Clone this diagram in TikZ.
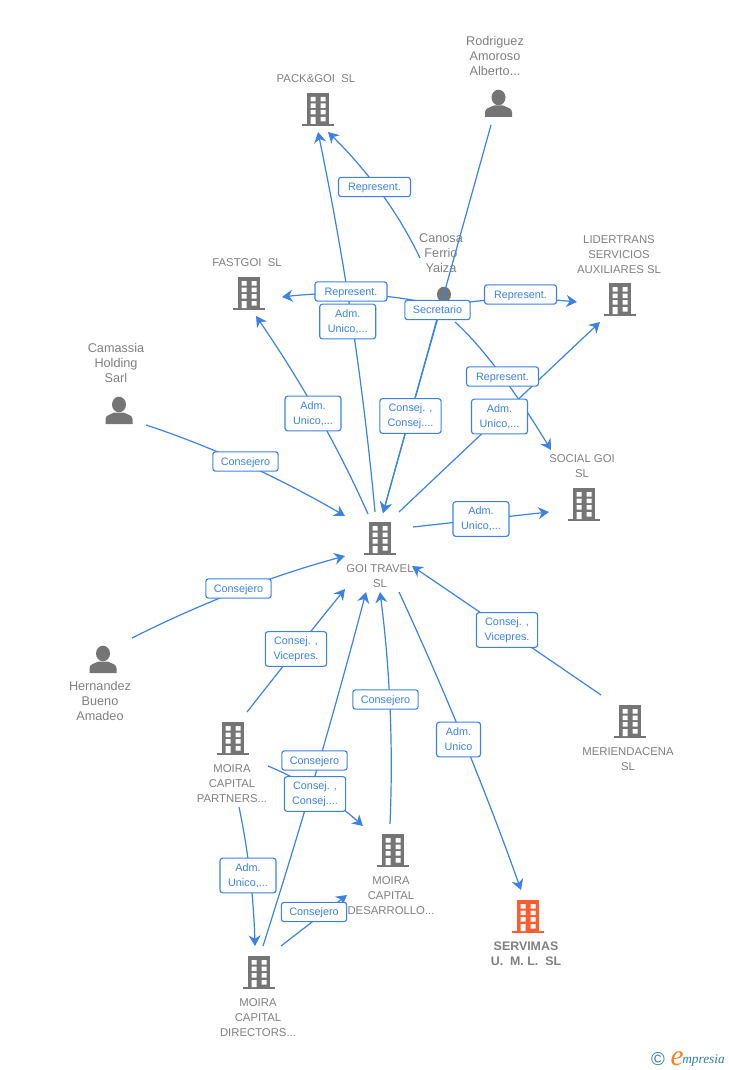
\documentclass[tikz,border=0pt]{standalone}
\usepackage{fontspec}
\setmainfont{Liberation Sans}
\newfontfamily\logoserif{Liberation Serif}
\usetikzlibrary{arrows.meta,calc}
\definecolor{linkblue}{HTML}{3B82E4}
\definecolor{nametext}{HTML}{808080}
\definecolor{icongray}{HTML}{757575}
\definecolor{iconorange}{HTML}{FF5B2E}
\definecolor{logoteal}{HTML}{2F7F9E}
\definecolor{logoorange}{HTML}{F58220}
\tikzset{
  x=0.75pt,y=-0.75pt,
  link/.style={draw=linkblue,line width=0.9pt},
  arrowlink/.style={link,-{Stealth[length=8pt,width=9pt,inset=2.6pt]}},
  tag/.style={draw=linkblue,fill=white,rounded corners=2pt,line width=0.85pt,text=linkblue,
    font=\fontsize{8.1}{11.3}\selectfont,align=center,inner sep=0pt,minimum height=#1},
  tag/.default=14.5pt,
  single/.style={tag,text height=5.6pt,text depth=0pt},
  nametag/.style={text=nametext,font=\fontsize{8.5}{11.25}\selectfont,align=center,inner sep=0pt,anchor=north},
  personname/.style={nametag,font=\fontsize{9.5}{11.25}\selectfont},
  pics/bld/.style={code={
    \fill[#1] (-11,0) rectangle (11,31);
    \fill[#1] (-16,31) rectangle (16,33);
    \fill[white] (-7.5,4) rectangle (-2.5,8.5) (2.5,4) rectangle (7.5,8.5)
      (-7.5,10.5) rectangle (-2.5,15) (2.5,10.5) rectangle (7.5,15)
      (-7.5,17) rectangle (-2.5,21.5) (2.5,17) rectangle (7.5,21.5)
      (-7.5,24) rectangle (-2.5,31) (2.5,24) rectangle (7.5,28.5);
  }},
  pics/person/.style={code={
    \fill[icongray] (0,7.5) ellipse (7 and 7.8);
    \fill[icongray] (-13.5,27) -- (-13.5,22) .. controls (-13.5,18.5) and (-9,17.5) .. (-4.5,15.5)
      -- (4.5,15.5) .. controls (9,17.5) and (13.5,18.5) .. (13.5,22) -- (13.5,27) -- cycle;
  }},
}
\newcommand{\conn}[3]{\draw[arrowlink] (#1) .. controls ($1.3333*(#2)-0.33333*(#3)$) and ($1.3333*(#2)-0.33333*(#1)$) .. (#3);}
\begin{document}
\begin{tikzpicture}
\useasboundingbox (0,0) rectangle (728,1070);
% icons
\pic at (318,93) {bld=icongray};
\pic at (249,277) {bld=icongray};
\pic at (620,283) {bld=icongray};
\pic at (584,488) {bld=icongray};
\pic at (380,522) {bld=icongray};
\pic at (630,705) {bld=icongray};
\pic at (233,722) {bld=icongray};
\pic at (393,834) {bld=icongray};
\pic at (259,956) {bld=icongray};
\pic at (528,900) {bld=iconorange};
\pic at (498.5,90) {person};
\pic at (119,397) {person};
\pic at (103,646) {person};
\pic at (444,287) {person};
% names
\node[personname] (nrod) at (495,36.5) {Rodriguez\\Amoroso\\Alberto...};
\node[nametag] (npack) at (316,74.5) {PACK\&GOI\ \ SL};
\node[nametag] (nfast) at (247,258.5) {FASTGOI\ \ SL};
\node[personname] (ncan) at (441,233.5) {Canosa\\Ferrio\\Yaiza};
\node[nametag] (nlid) at (619,235.5) {LIDERTRANS\\SERVICIOS\\AUXILIARES SL};
\node[personname] (ncam) at (116,343.5) {Camassia\\Holding\\Sarl};
\node[nametag] (nsoc) at (582,454.5) {SOCIAL GOI\\SL};
\node[nametag] (ngoi) at (380,564.5) {GOI TRAVEL\\SL};
\node[personname] (nher) at (100,681.5) {Hernandez\\Bueno\\Amadeo};
\node[nametag] (nmer) at (628,747.5) {MERIENDACENA\\SL};
\node[nametag] (npar) at (232,764.5) {MOIRA\\CAPITAL\\PARTNERS...};
\node[nametag] (ndes) at (391,876.5) {MOIRA\\CAPITAL\\DESARROLLO...};
\node[nametag] (ndir) at (258,998.5) {MOIRA\\CAPITAL\\DIRECTORS...};
\node[nametag,font=\fontsize{9.3}{11.25}\selectfont\bfseries] (nser) at (526,942) {SERVIMAS\\U.\ \ M.\ L.\ \ SL};
% connector ends and waypoints
\coordinate (goiPackS) at (375,512);   \coordinate (goiPackE) at (318,132);  \coordinate (goiPackV) at (352,322);
\coordinate (canPackS) at (420,258);   \coordinate (canPackE) at (328,132);  \coordinate (canPackV) at (381,193);
\coordinate (canFastS) at (418,301);   \coordinate (canFastE) at (282,297);  \coordinate (canFastV) at (351,294);
\coordinate (canLidS) at (470,302);    \coordinate (canLidE) at (577,302);   \coordinate (canLidV) at (520,299);
\coordinate (canSocS) at (455,322);    \coordinate (canSocE) at (551,450);   \coordinate (canSocV) at (499,372);
\coordinate (rodGoiS) at (491,125);    \coordinate (rodGoiE) at (383,513);   \coordinate (rodGoiV) at (437,319);
\coordinate (canGoiS) at (443,300);    \coordinate (canGoiV) at (413,406);
\coordinate (goiLidS) at (399,512);    \coordinate (goiLidE) at (600,322);   \coordinate (goiLidV) at (499.5,417);
\coordinate (goiFastS) at (368,514);   \coordinate (goiFastE) at (256,316);  \coordinate (goiFastV) at (318,415);
\coordinate (camGoiS) at (146,425);    \coordinate (camGoiE) at (345,516);   \coordinate (camGoiV) at (245,464);
\coordinate (goiSocS) at (413,527);    \coordinate (goiSocE) at (549,512);   \coordinate (goiSocV) at (481,519.5);
\coordinate (herGoiS) at (132,638);    \coordinate (herGoiE) at (345,556);   \coordinate (herGoiV) at (238,591);
\coordinate (merGoiS) at (601,695);    \coordinate (merGoiE) at (412,566);   \coordinate (merGoiV) at (506,630);
\coordinate (parGoiS) at (247,712);    \coordinate (parGoiE) at (345,589);   \coordinate (parGoiV) at (296,650);
\coordinate (dirGoiS) at (263,946);    \coordinate (dirGoiE) at (366,592);   \coordinate (dirGoiV) at (317,769);
\coordinate (desGoiS) at (390,824);    \coordinate (desGoiE) at (380,592);   \coordinate (desGoiV) at (390,708);
\coordinate (goiSerS) at (399,592);    \coordinate (goiSerE) at (521,890);   \coordinate (goiSerV) at (464,741);
\coordinate (parDesS) at (268,766);    \coordinate (parDesE) at (363,826);   \coordinate (parDesV) at (318,792);
\coordinate (parDirS) at (239,807);    \coordinate (parDirE) at (255,946);   \coordinate (parDirV) at (250,875);
\coordinate (dirDesS) at (281,946);    \coordinate (dirDesE) at (347,895);   \coordinate (dirDesV) at (314,920.5);
% connectors
\conn{goiPackS}{goiPackV}{goiPackE}
\conn{canPackS}{canPackV}{canPackE}
\conn{canFastS}{canFastV}{canFastE}
\conn{canLidS}{canLidV}{canLidE}
\conn{canSocS}{canSocV}{canSocE}
\conn{rodGoiS}{rodGoiV}{rodGoiE}
\conn{canGoiS}{canGoiV}{rodGoiE}
\conn{goiLidS}{goiLidV}{goiLidE}
\conn{goiFastS}{goiFastV}{goiFastE}
\conn{camGoiS}{camGoiV}{camGoiE}
\conn{goiSocS}{goiSocV}{goiSocE}
\conn{herGoiS}{herGoiV}{herGoiE}
\conn{merGoiS}{merGoiV}{merGoiE}
\conn{parGoiS}{parGoiV}{parGoiE}
\conn{dirGoiS}{dirGoiV}{dirGoiE}
\conn{desGoiS}{desGoiV}{desGoiE}
\conn{goiSerS}{goiSerV}{goiSerE}
\conn{parDesS}{parDesV}{parDesE}
\conn{parDirS}{parDirV}{parDirE}
\conn{dirDesS}{dirDesV}{dirDesE}
% tags
\node[single,minimum width=54pt] (t1) at (374.5,187) {Represent.};
\node[single,minimum width=54pt] (t2) at (351,291.5) {Represent.};
\node[tag=26pt,minimum width=42pt] (t3) at (347.7,321.5) {Adm.\\Unico,...};
\node[single,minimum width=49pt] (t4) at (437.5,310) {Secretario};
\node[single,minimum width=54pt] (t5) at (520.5,294.5) {Represent.};
\node[single,minimum width=54pt] (t6) at (502.5,376.5) {Represent.};
\node[tag=26pt,minimum width=42pt] (t7) at (499.5,416.5) {Adm.\\Unico,...};
\node[tag=26pt,minimum width=46pt] (t8) at (410.5,416) {Consej. ,\\Consej....};
\node[tag=26pt,minimum width=42pt] (t9) at (313,413.5) {Adm.\\Unico,...};
\node[single,minimum width=49pt] (t10) at (245.5,461.5) {Consejero};
\node[tag=26pt,minimum width=42pt] (t11) at (481,519) {Adm.\\Unico,...};
\node[single,minimum width=49pt] (t12) at (238.5,588.5) {Consejero};
\node[tag=26pt,minimum width=46pt] (t13) at (507,630) {Consej. ,\\Vicepres.};
\node[tag=26pt,minimum width=46pt] (t14) at (296,649) {Consej. ,\\Vicepres.};
\node[single,minimum width=49pt] (t15) at (385.5,699.5) {Consejero};
\node[tag=26pt,minimum width=33pt] (t16) at (458.5,739.5) {Adm.\\Unico};
\node[single,minimum width=49pt] (t17) at (314.5,760.5) {Consejero};
\node[tag=26pt,minimum width=46pt] (t18) at (315,794) {Consej. ,\\Consej....};
\node[tag=26pt,minimum width=42pt] (t19) at (248,875.5) {Adm.\\Unico,...};
\node[single,minimum width=49pt] (t20) at (314,912) {Consejero};
% logo
\node[inner sep=0pt,text=logoteal,font=\fontsize{14}{14}\selectfont] (lc) at (658,1059) {©};
\node[inner sep=0pt,anchor=base west,text=logoteal,font=\logoserif\fontsize{10}{10}\selectfont\itshape] (lm) at (682,1063) {mpresia};
\node[inner sep=0pt,anchor=base east,text=logoorange,font=\logoserif\fontsize{22}{22}\selectfont\itshape] (le) at (684,1065) {e};
\end{tikzpicture}
\end{document}
